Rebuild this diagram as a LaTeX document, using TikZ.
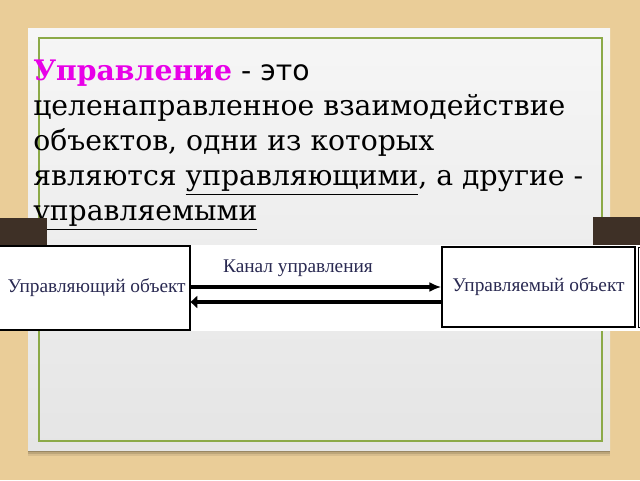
\documentclass[tikz,border=0pt]{standalone}
\usepackage{fontspec}
\setmainfont{DejaVu Serif}
\newfontfamily\serifnt{DejaVu Serif}
\newfontfamily\sansfnt{DejaVu Sans}
\newfontfamily\diagfnt{Liberation Serif}
\usetikzlibrary{positioning,arrows.meta}
\definecolor{wood}{RGB}{234,205,152}
\definecolor{boardtop}{RGB}{246,246,246}
\definecolor{boardlow}{RGB}{229,229,229}
\definecolor{frame}{RGB}{140,170,72}
\definecolor{bark}{RGB}{62,48,38}
\definecolor{ink}{RGB}{42,42,82}
\definecolor{hilite}{RGB}{232,0,232}

\begin{document}
\begin{tikzpicture}[x=0.75pt,y=0.75pt,yscale=-1,xscale=1,
    objbox/.style={draw=black, fill=white, line width=0.9pt, inner sep=0pt, text=ink,
                   font=\diagfnt\fontsize{14.5}{16}\selectfont},
    link/.style={line width=2.3pt}
  ]
  \useasboundingbox (0,0) rectangle (640,480);

  % background and board
  \fill [wood] (0,0) rectangle (640,480);
  \foreach \s/\o in {6/0.08,4/0.12,2/0.18}{
    \fill [black, opacity=\o] (28,450) rectangle (610,450+\s);
  }
  \shade [top color=boardtop, bottom color=boardlow] (28,28) rectangle (610,450);
  \draw [frame, line width=1.6pt] (39,38) rectangle (602,441);

  % definition
  \node [anchor=north west, align=left, inner sep=0pt,
         font=\serifnt\fontsize{21.2}{26.25}\selectfont] (defn) at (33,60)
    {\textcolor{hilite}{\textbf{Управление}} {\sansfnt - это}\\
     целенаправленное взаимодействие\\
     объектов, одни из которых\\
     являются \underline{управляющими}, а другие -\\
     \underline{управляемыми}};

  % dark bars behind the strip
  \fill [bark] (0,218) rectangle (47,246);
  \fill [bark] (593,217) rectangle (640,246);

  % strip with the scheme
  \fill [white] (0,245) rectangle (640,331);
  \node [objbox, minimum width=144pt, minimum height=63pt] (ctrl) at (94,288) {\hspace{4pt}Управляющий объект};
  \node [objbox, minimum width=144.75pt, minimum height=60pt] (obj) at (538.5,287) {Управляемый объект};
  \node [objbox, anchor=north west, minimum width=60pt, minimum height=60pt] (next) at (637.5,247) {};

  \draw [link, -{Latex[length=9pt,width=7.5pt]}] (ctrl.east |- obj.west) -- (obj.west);
  \draw [link, -{Triangle[length=5pt,width=9pt]}] ([yshift=11.25pt]obj.west) -- ([yshift=11.25pt]obj.west -| ctrl.east);
  \node [font=\diagfnt\fontsize{14.5}{16}\selectfont, text=ink] (chan) at (298,268) {Канал управления};
\end{tikzpicture}
\end{document}
